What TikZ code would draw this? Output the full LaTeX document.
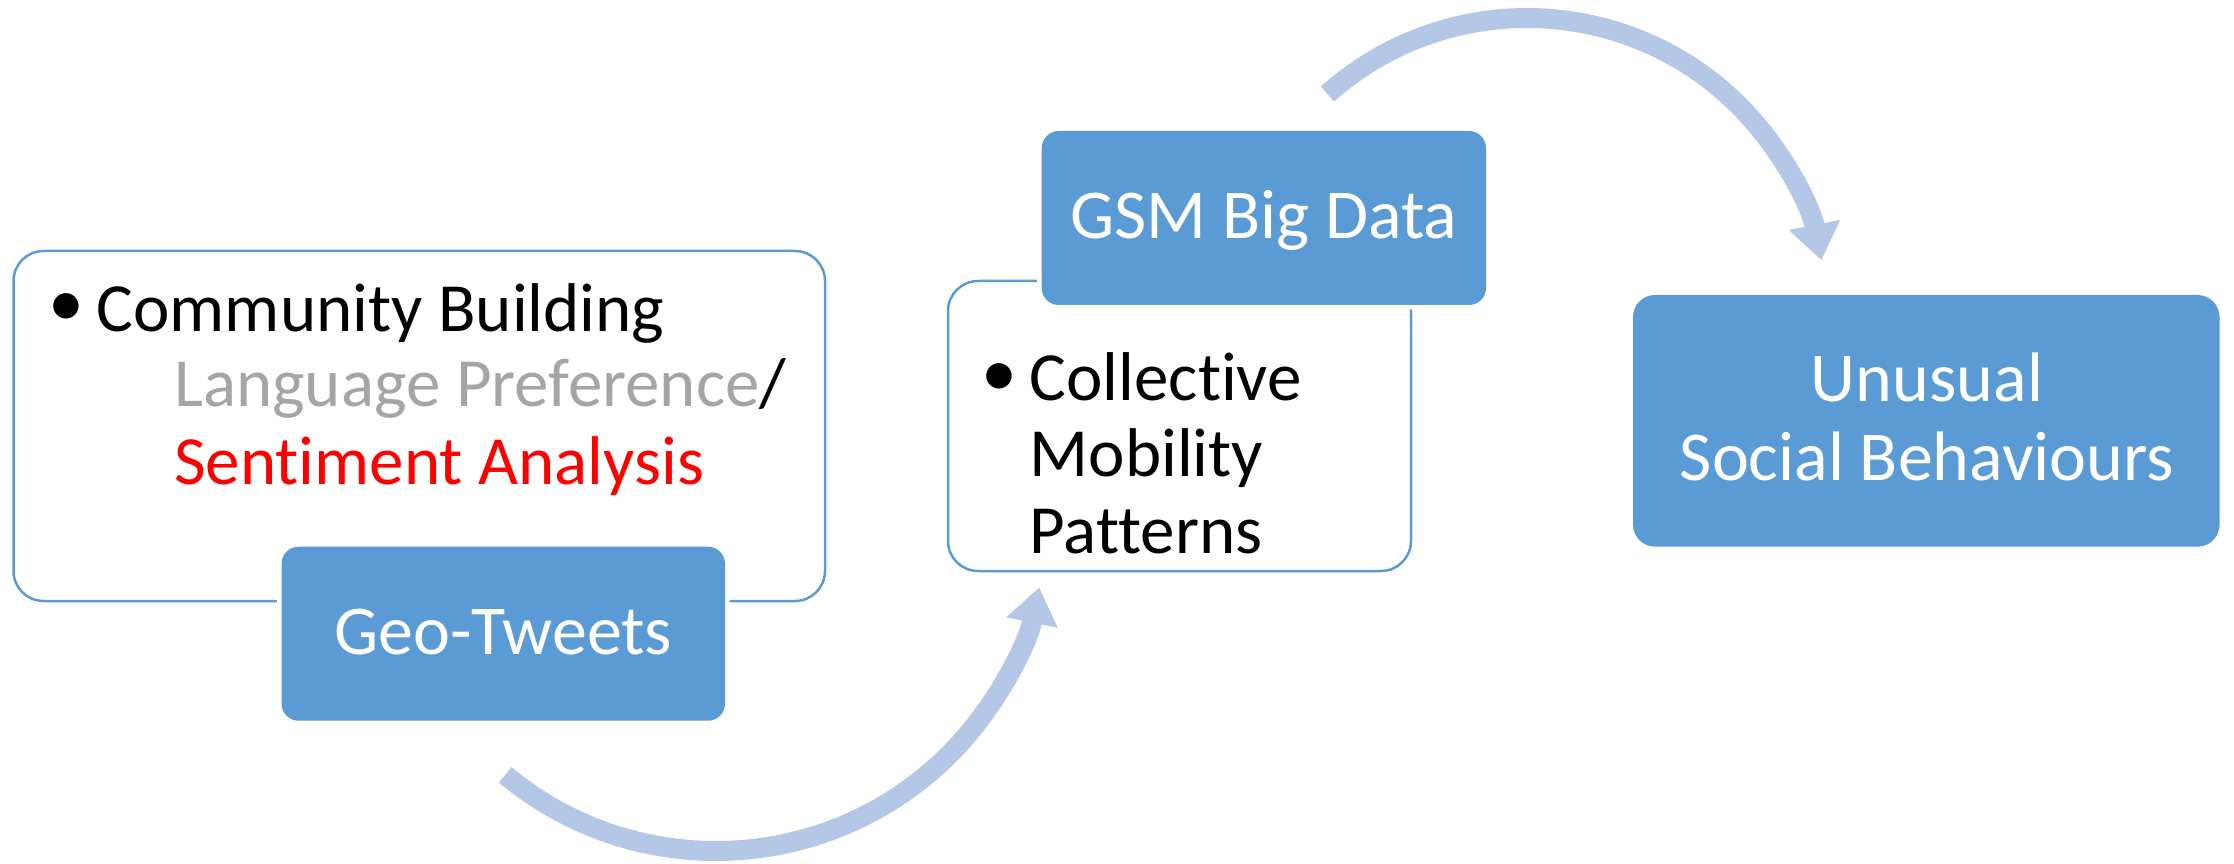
\documentclass[tikz,border=0pt]{standalone}
\usepackage{fontspec}
\setmainfont{Carlito}[Ligatures={NoCommon}]
\usetikzlibrary{arrows.meta}
\definecolor{boxblue}{HTML}{5B9BD5}
\definecolor{arrowblue}{HTML}{B4C7E7}
\definecolor{softgray}{HTML}{A5A5A5}
\definecolor{alertred}{HTML}{FF0000}

\begin{document}
\begin{tikzpicture}[x=1pt,y=1pt,
  outline/.style={draw=boxblue, line width=2.5pt, rounded corners=30pt,
    rectangle, inner sep=0pt},
  solidbox/.style={fill=boxblue, preaction={draw=white, line width=9pt},
    rectangle, inner sep=0pt, rounded corners=17pt},
  boxlabel/.style={text=white, inner sep=0pt, anchor=base,
    font=\fontsize{70pt}{84pt}\selectfont},
  itemtext/.style={text=black, inner sep=0pt, anchor=base west,
    font=\fontsize{69pt}{82pt}\selectfont},
  bulletdot/.style={text=black, inner sep=0pt,
    font=\fontsize{72pt}{82pt}\selectfont},
  flow/.style={draw=arrowblue, line width=20pt, line cap=butt,
    -{Triangle[width=50pt,length=36pt]}}
]
\useasboundingbox (0,0) rectangle (2234,863);

% Geo-Tweets panel
\node[outline, minimum width=811.5pt, minimum height=350pt] (twpanel) at (419.25,437) {};
\node[solidbox, minimum width=443.5pt, minimum height=174pt] (geo) at (503.25,229.3) {};
\node[boxlabel] (geolabel) at (503.25,209) {Geo-Tweets};
\node[bulletdot] (bulletA) at (66,553) {•};
\node[itemtext] (community) at (96.5,531.3) {Community Building};
\node[itemtext] (language) at (174,456) {\textcolor{softgray}{Language Preference}/};
\node[itemtext, text=alertred] (sentiment) at (174,379) {Sentiment Analysis};

% GSM panel
\node[outline, minimum width=463pt, minimum height=290pt] (gsmpanel) at (1179.5,437) {};
\node[solidbox, minimum width=444.3pt, minimum height=174pt] (gsm) at (1263.85,645) {};
\node[boxlabel] (gsmlabel) at (1263.85,624.7) {GSM Big Data};
\node[bulletdot] (bulletB) at (999,483) {•};
\node[itemtext] (collective) at (1029.5,462.3) {Collective};
\node[itemtext] (mobility) at (1029.5,386.3) {Mobility};
\node[itemtext] (patterns) at (1029.5,310) {Patterns};

% Outcome
\node[solidbox, rounded corners=22pt, minimum width=586.5pt, minimum height=251.7pt] (unusual) at (1926.25,442.15) {};
\node[boxlabel] (unusualA) at (1927,461.3) {Unusual};
\node[boxlabel] (unusualB) at (1927,382) {Social Behaviours};

% Curved flow arrows
\coordinate (centerB) at (716,342);
\coordinate (tailB) at ([shift={(230.3:330pt)}]centerB);
\draw[flow] (tailB) arc[start angle=230.3, end angle=348.4, radius=330pt];

\coordinate (centerT) at (1527,545);
\coordinate (tailT) at ([shift={(131.7:300pt)}]centerT);
\draw[flow] (tailT) arc[start angle=131.7, end angle=11.1, radius=300pt];
\end{tikzpicture}
\end{document}
